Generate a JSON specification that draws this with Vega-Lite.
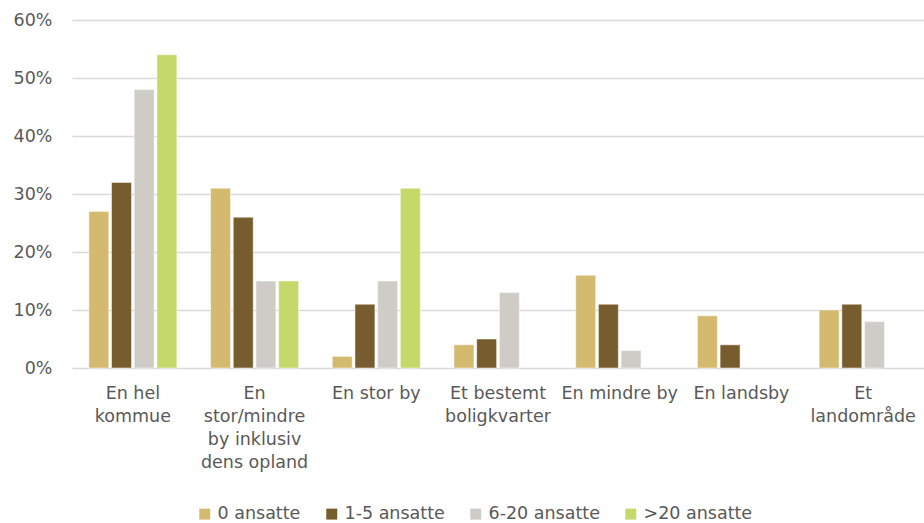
{
  "$schema": "https://vega.github.io/schema/vega-lite/v6.json",
  "width": 852,
  "height": 348,
  "autosize": {"type": "none"},
  "padding": {"left": 72, "top": 20, "right": 0, "bottom": 155},
  "background": "white",
  "config": {
    "view": {"stroke": null},
    "font": "DejaVu Sans",
    "text": {"font": "DejaVu Sans"}
  },
  "data": {
    "values": [
      {"omraade": "En hel kommue", "gruppe": "0 ansatte", "andel": 0.27},
      {"omraade": "En hel kommue", "gruppe": "1-5 ansatte", "andel": 0.32},
      {"omraade": "En hel kommue", "gruppe": "6-20 ansatte", "andel": 0.48},
      {"omraade": "En hel kommue", "gruppe": ">20 ansatte", "andel": 0.54},
      {"omraade": "En stor/mindre by inklusiv dens opland", "gruppe": "0 ansatte", "andel": 0.31},
      {"omraade": "En stor/mindre by inklusiv dens opland", "gruppe": "1-5 ansatte", "andel": 0.26},
      {"omraade": "En stor/mindre by inklusiv dens opland", "gruppe": "6-20 ansatte", "andel": 0.15},
      {"omraade": "En stor/mindre by inklusiv dens opland", "gruppe": ">20 ansatte", "andel": 0.15},
      {"omraade": "En stor by", "gruppe": "0 ansatte", "andel": 0.02},
      {"omraade": "En stor by", "gruppe": "1-5 ansatte", "andel": 0.11},
      {"omraade": "En stor by", "gruppe": "6-20 ansatte", "andel": 0.15},
      {"omraade": "En stor by", "gruppe": ">20 ansatte", "andel": 0.31},
      {"omraade": "Et bestemt boligkvarter", "gruppe": "0 ansatte", "andel": 0.04},
      {"omraade": "Et bestemt boligkvarter", "gruppe": "1-5 ansatte", "andel": 0.05},
      {"omraade": "Et bestemt boligkvarter", "gruppe": "6-20 ansatte", "andel": 0.13},
      {"omraade": "En mindre by", "gruppe": "0 ansatte", "andel": 0.16},
      {"omraade": "En mindre by", "gruppe": "1-5 ansatte", "andel": 0.11},
      {"omraade": "En mindre by", "gruppe": "6-20 ansatte", "andel": 0.03},
      {"omraade": "En landsby", "gruppe": "0 ansatte", "andel": 0.09},
      {"omraade": "En landsby", "gruppe": "1-5 ansatte", "andel": 0.04},
      {"omraade": "Et landområde", "gruppe": "0 ansatte", "andel": 0.10},
      {"omraade": "Et landområde", "gruppe": "1-5 ansatte", "andel": 0.11},
      {"omraade": "Et landområde", "gruppe": "6-20 ansatte", "andel": 0.08}
    ]
  },
  "mark": {"type": "bar", "stroke": "white", "strokeWidth": 0.5},
  "encoding": {
    "x": {
      "field": "omraade",
      "type": "nominal",
      "sort": ["En hel kommue", "En stor/mindre by inklusiv dens opland", "En stor by", "Et bestemt boligkvarter", "En mindre by", "En landsby", "Et landområde"],
      "scale": {"paddingInner": 0.277, "paddingOuter": 0.1385},
      "axis": {
        "title": null,
        "labelAngle": 0,
        "domain": false,
        "ticks": false,
        "labelPadding": 16,
        "labelFontSize": 17.5,
        "labelColor": "#595959",
        "labelBaseline": "top",
        "labelLineHeight": 23,
        "labelLimit": 200,
        "labelOverlap": false,
        "labelExpr": "datum.value == 'En hel kommue' ? ['En hel', 'kommue'] : datum.value == 'En stor/mindre by inklusiv dens opland' ? ['En', 'stor/mindre', 'by inklusiv', 'dens opland'] : datum.value == 'Et bestemt boligkvarter' ? ['Et bestemt', 'boligkvarter'] : datum.value == 'Et landområde' ? ['Et', 'landområde'] : datum.value"
      }
    },
    "xOffset": {
      "field": "gruppe",
      "type": "nominal",
      "sort": ["0 ansatte", "1-5 ansatte", "6-20 ansatte", ">20 ansatte"],
      "scale": {"paddingInner": 0.12, "domain": ["0 ansatte", "1-5 ansatte", "6-20 ansatte", ">20 ansatte"]}
    },
    "y": {
      "field": "andel",
      "type": "quantitative",
      "scale": {"domain": [0, 0.6]},
      "axis": {
        "title": null,
        "format": ".0%",
        "values": [0, 0.1, 0.2, 0.3, 0.4, 0.5, 0.6],
        "labelOverlap": false,
        "domain": false,
        "ticks": false,
        "labelPadding": 20,
        "labelFontSize": 17.5,
        "labelColor": "#595959",
        "gridColor": "#D9D9D9",
        "gridWidth": 1.5
      }
    },
    "color": {
      "field": "gruppe",
      "type": "nominal",
      "sort": ["0 ansatte", "1-5 ansatte", "6-20 ansatte", ">20 ansatte"],
      "scale": {
        "domain": ["0 ansatte", "1-5 ansatte", "6-20 ansatte", ">20 ansatte"],
        "range": ["#D4BA6E", "#775D2E", "#CFCBC7", "#C5D86A"]
      },
      "legend": {
        "title": null,
        "orient": "none",
        "direction": "horizontal",
        "legendX": 124,
        "legendY": 485,
        "symbolType": "square",
        "symbolSize": 120,
        "symbolStrokeWidth": 0,
        "labelFontSize": 17.5,
        "labelColor": "#595959",
        "labelOffset": 4,
        "columnPadding": 22
      }
    }
  }
}
